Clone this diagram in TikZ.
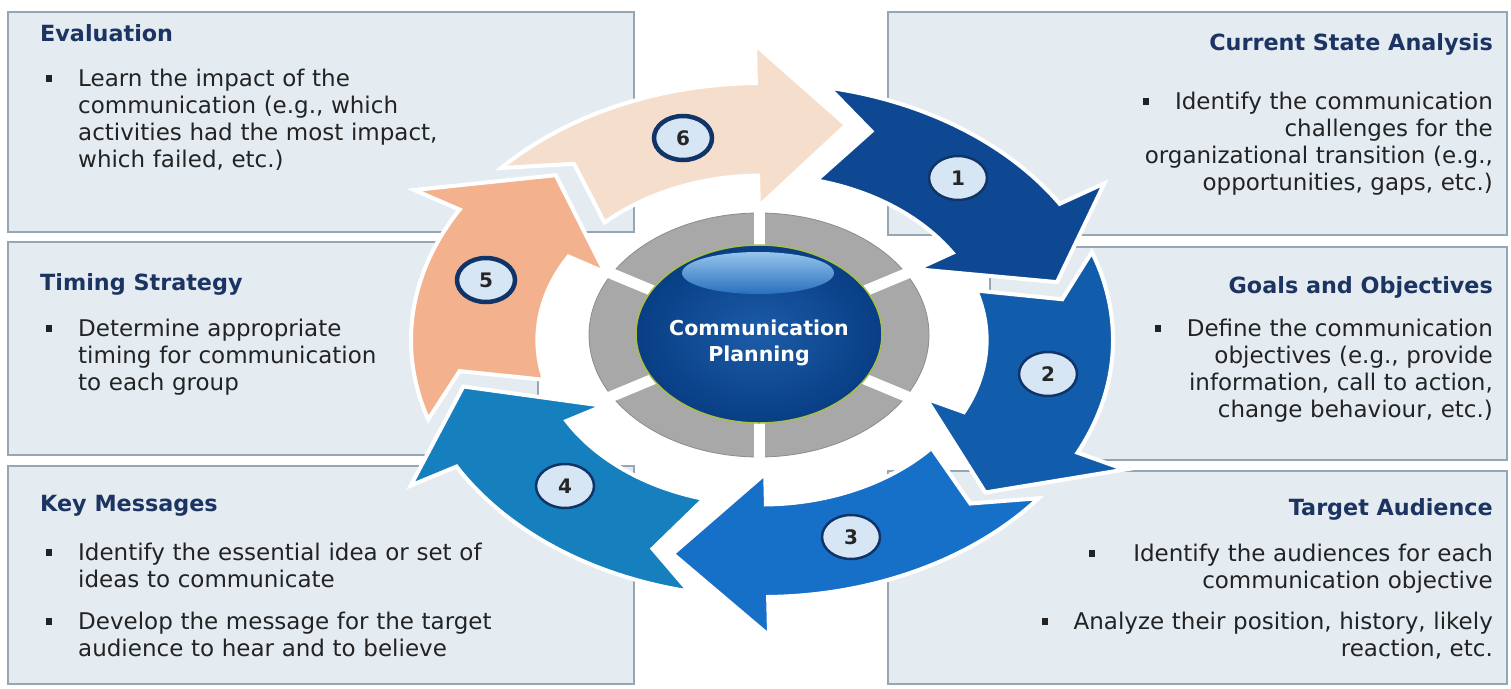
\documentclass[tikz,border=0pt]{standalone}
\usepackage{fontspec}
\setmainfont{DejaVu Sans}
\usetikzlibrary{shapes.geometric}

\definecolor{boxfill}{RGB}{228,236,242}
\definecolor{boxline}{RGB}{150,166,180}
\definecolor{headblue}{RGB}{28,52,98}
\definecolor{bodytext}{RGB}{35,35,35}
\definecolor{arrA}{RGB}{14,72,146}
\definecolor{arrB}{RGB}{18,92,172}
\definecolor{arrC}{RGB}{22,112,200}
\definecolor{arrD}{RGB}{22,128,190}
\definecolor{arrE}{RGB}{243,177,141}
\definecolor{arrF}{RGB}{246,222,204}
\definecolor{ringgray}{RGB}{168,168,168}
\definecolor{badgefill}{RGB}{214,230,244}
\definecolor{badgeline}{RGB}{16,52,104}

% square bullet and hanging indent
\newcommand{\bul}{\makebox[32pt][l]{\rule[4pt]{6pt}{7pt}}}
\newcommand{\ind}{\hspace*{32pt}}

\tikzset{
  infobox/.style={fill=boxfill, draw=boxline, line width=1.2pt},
  boxtitle/.style={font=\fontsize{22.3}{26}\selectfont\bfseries, text=headblue, inner sep=0pt},
  boxbody/.style={font=\fontsize{23}{27}\selectfont, text=bodytext, inner sep=0pt},
  leftbody/.style={boxbody, anchor=base west, text width=540pt, align=left},
  rightbody/.style={boxbody, anchor=base east, text width=540pt, align=right},
  badge/.style={ellipse, fill=badgefill, draw=badgeline, line width=2.5pt,
    minimum width=58pt, minimum height=44pt, inner sep=0pt,
    font=\fontsize{20}{20}\selectfont\bfseries, text=black!85},
  cyclearrow/.style={draw=white, line width=4pt, line join=miter},
}

\begin{document}
\begin{tikzpicture}[x=1pt,y=-1pt]
  \useasboundingbox[fill=white] (0,0) rectangle (1511,688);

  % text panels
  \draw[infobox] (8,12) rectangle (634,232);
  \draw[infobox] (8,242) rectangle (538,455);
  \draw[infobox] (8,466) rectangle (634,684);
  \draw[infobox] (888,12) rectangle (1507,235);
  \draw[infobox] (990,247) rectangle (1507,460);
  \draw[infobox] (888,471) rectangle (1507,684);

  \node[boxtitle, anchor=base west] (evalT) at (40,41) {Evaluation};
  \node[leftbody] (evalB) at (46,86)
    {\bul Learn the impact of the\\
     \ind communication (e.g., which\\
     \ind activities had the most impact,\\
     \ind which failed, etc.)};

  \node[boxtitle, anchor=base west] (timeT) at (40,290) {Timing Strategy};
  \node[leftbody] (timeB) at (46,336)
    {\bul Determine appropriate\\
     \ind timing for communication\\
     \ind to each group};

  \node[boxtitle, anchor=base west] (keyT) at (40,511) {Key Messages};
  \node[leftbody] (keyB) at (46,560)
    {\bul Identify the essential idea or set of\\
     \ind ideas to communicate\\[15pt]
     \bul Develop the message for the target\\
     \ind audience to hear and to believe};

  \node[boxtitle, anchor=base east] (curT) at (1493,50) {Current State Analysis};
  \node[rightbody] (curB) at (1493,109)
    {\bul Identify the communication\\
     challenges for the\\
     organizational transition (e.g.,\\
     opportunities, gaps, etc.)};

  \node[boxtitle, anchor=base east] (goalT) at (1493,293) {Goals and Objectives};
  \node[rightbody] (goalB) at (1493,336)
    {\bul Define the communication\\
     objectives (e.g., provide\\
     information, call to action,\\
     change behaviour, etc.)};

  \node[boxtitle, anchor=base east] (audT) at (1493,515) {Target Audience};
  \node[rightbody] (audB) at (1493,561)
    {\bul\hspace{12pt}Identify the audiences for each\\
     communication objective\\[14pt]
     \bul Analyze their position, history, likely\\
     reaction, etc.};

  % grey ring split in six
  \fill[ringgray, draw=black!45, line width=0.8pt] (759,335) ellipse [x radius=170, y radius=122];
  \foreach \a in {30,90,...,330}
    \draw[white, line width=11pt] (759,335) -- ++({190*cos(\a)},{-137*sin(\a)});

  % hub
  \shade[inner color={rgb,255:red,28;green,92;blue,168}, outer color={rgb,255:red,8;green,62;blue,132}]
    (759,334) ellipse [x radius=123, y radius=89];
  \draw[draw={rgb,255:red,170;green,190;blue,70}, line width=1.5pt]
    (759,334) ellipse [x radius=123, y radius=89];
  \shade[top color={rgb,255:red,150;green,196;blue,236}, bottom color={rgb,255:red,40;green,112;blue,190}]
    (758,273) ellipse [x radius=76, y radius=21];
  \node[font=\fontsize{20.5}{26}\selectfont\bfseries, text=white, align=center] (hub) at (759,343)
    {Communication\\Planning};

  % six curved arrows round the hub
  \begin{scope}[shift={(762,340)}, y=1pt]
    \foreach \to/\ti/\nt/\hd/\tp/\col in {
        -162/-166/-172/-210.5/-227.5/arrE,
        138/134.5/128/91/74/arrF,
        79/76/69/32/15/arrA,
        20/17.5/10.5/-26/-43/arrB,
        -38/-41/-47/-89/-107/arrC,
        -102/-105/-111/-150.5/-168/arrD}
      \filldraw[cyclearrow, fill=\col]
        ({351*cos(\to)},{257*sin(\to)})
        arc[start angle=\to, end angle=\hd, x radius=351, y radius=257]
        -- ({351*1.15*cos(\hd)},{257*1.15*sin(\hd)})
        -- ({351*0.87*cos(\tp)},{257*0.87*sin(\tp)})
        -- ({351*0.52*cos(\hd)},{257*0.52*sin(\hd)})
        -- ({351*0.64*cos(\hd)},{257*0.64*sin(\hd)})
        arc[start angle=\hd, end angle=\ti, x radius=224.64, y radius=164.48]
        -- ({351*0.87*cos(\nt)},{257*0.87*sin(\nt)})
        -- cycle;
  \end{scope}

  % step numbers
  \foreach \n/\px/\py in {1/958/178, 2/1048/374, 3/851/537, 4/565/486}
    \node[badge] (b\n) at (\px,\py) {\n};
  \foreach \n/\px/\py in {5/486/280, 6/683/138}
    \node[badge, line width=4.5pt] (b\n) at (\px,\py) {\n};
\end{tikzpicture}
\end{document}
